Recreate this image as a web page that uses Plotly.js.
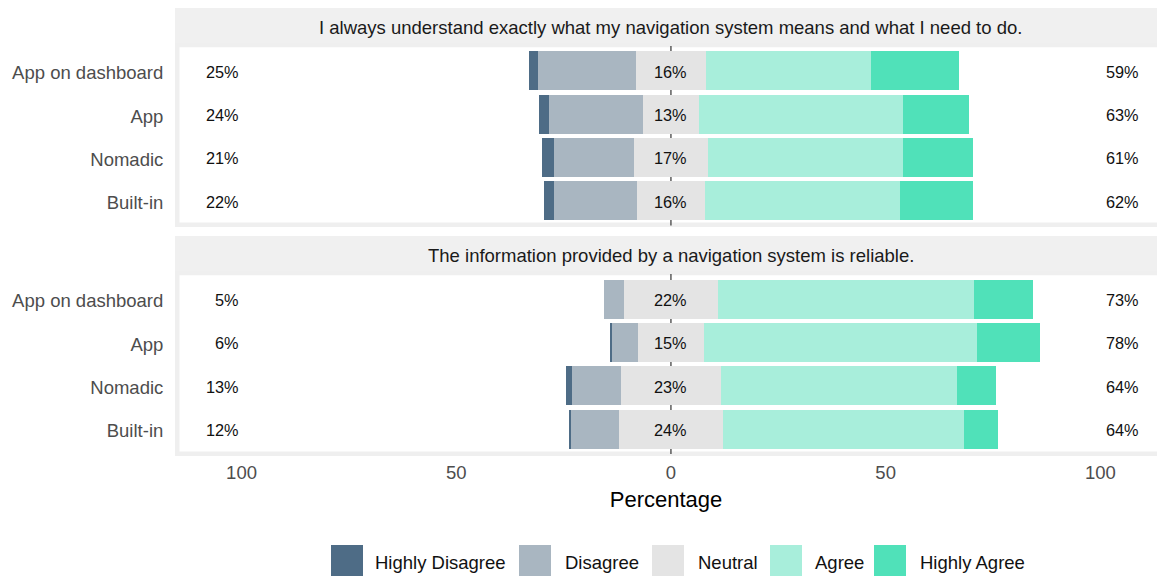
<!DOCTYPE html>
<html>
<head>
<meta charset="utf-8">
<script src="https://cdn.plot.ly/plotly-3.0.1.min.js"></script>
<style>
  html, body { margin: 0; padding: 0; background: #fff; overflow: hidden; }
  #chart { width: 1157px; height: 576px; }
</style>
</head>
<body>
<div id="chart"></div>
<script>
// ---------- data ----------
const categories = ["App on dashboard", "App", "Nomadic", "Built-in"];
const questions = [
  "I always understand exactly what my navigation system means and what I need to do.",
  "The information provided by a navigation system is reliable."
];
const levels = ["Highly Disagree", "Disagree", "Neutral", "Agree", "Highly Agree"];
const levelColors = ["#4e6c86", "#a9b6c1", "#e4e4e4", "#a8eedb", "#50e1b9"];

// Question 1: understanding (percent of respondents)
const q1HighlyDisagree = [2.2, 2.2, 2.6, 2.2];
const q1Disagree       = [22.7, 22.0, 18.8, 19.5];
const q1Neutral        = [16.4, 12.9, 17.1, 15.7];
const q1Agree          = [38.5, 47.7, 45.6, 45.5];
const q1HighlyAgree    = [20.3, 15.3, 16.1, 16.9];
const q1LowLabels     = ["25%", "24%", "21%", "22%"];
const q1NeutralLabels = ["16%", "13%", "17%", "16%"];
const q1HighLabels    = ["59%", "63%", "61%", "62%"];

// Question 2: reliability (percent of respondents)
const q2HighlyDisagree = [0.0, 0.4, 1.4, 0.4];
const q2Disagree       = [4.6, 6.0, 11.6, 11.2];
const q2Neutral        = [22.0, 15.4, 23.1, 24.1];
const q2Agree          = [59.6, 63.6, 55.0, 56.1];
const q2HighlyAgree    = [13.7, 14.7, 9.2, 8.1];
const q2LowLabels     = ["5%", "6%", "13%", "12%"];
const q2NeutralLabels = ["22%", "15%", "23%", "24%"];
const q2HighLabels    = ["73%", "78%", "64%", "64%"];

const xTickValues = [-100, -50, 0, 50, 100];
const xTickLabels = ["100", "50", "0", "50", "100"];

// ---------- layout helpers ----------
const W = 1157, H = 576;
const FONT = "Liberation Sans, Arial, sans-serif";
const px = x => x / W;
const py = y => 1 - y / H;

const panels = [
  { yaxis: "y",  ref: "y",  hd: q1HighlyDisagree, d: q1Disagree, n: q1Neutral, a: q1Agree, ha: q1HighlyAgree,
    low: q1LowLabels, mid: q1NeutralLabels, high: q1HighLabels, title: questions[0],
    strip: [8, 45], dom: [45, 226.5], border: [45, 227] },
  { yaxis: "y2", ref: "y2", hd: q2HighlyDisagree, d: q2Disagree, n: q2Neutral, a: q2Agree, ha: q2HighlyAgree,
    low: q2LowLabels, mid: q2NeutralLabels, high: q2HighLabels, title: questions[1],
    strip: [236, 273], dom: [273, 455], border: [273, 456] }
];

const traces = [];
const shapes = [];
const annotations = [];
const panelLeft = 175;

panels.forEach(p => {
  const half = p.n.map(v => v / 2);
  const segs = [
    { lvl: 2, x: p.n,  base: half.map(v => -v) },
    { lvl: 1, x: p.d,  base: half.map((v, i) => -v - p.d[i]) },
    { lvl: 0, x: p.hd, base: half.map((v, i) => -v - p.d[i] - p.hd[i]) },
    { lvl: 3, x: p.a,  base: half.slice() },
    { lvl: 4, x: p.ha, base: half.map((v, i) => v + p.a[i]) }
  ];
  segs.forEach(s => {
    traces.push({
      type: "bar", orientation: "h",
      x: s.x, base: s.base, y: categories,
      xaxis: "x", yaxis: p.yaxis,
      name: levels[s.lvl], width: 0.9,
      marker: { color: levelColors[s.lvl], line: { width: 0 } },
      showlegend: false, hoverinfo: "skip"
    });
  });
  // percentage labels (low / neutral / high)
  const addLabels = (xpos, labels, anchor, xshift) => {
    categories.forEach((c, i) => {
      annotations.push({ xref: "x", yref: p.ref, x: xpos, y: c, text: labels[i],
        showarrow: false, xanchor: anchor, yanchor: "middle", xshift: xshift, yshift: -1,
        font: { family: FONT, size: 16.3, color: "#111" } });
    });
  };
  addLabels(-100.5, p.low, "right", 2);
  addLabels(0, p.mid, "center", 0);
  addLabels(101.3, p.high, "left", -2);

  // strip
  shapes.push({ type: "rect", xref: "paper", yref: "paper", layer: "below",
    x0: px(panelLeft), x1: 1.02, y0: py(p.strip[1]), y1: py(p.strip[0]),
    fillcolor: "#f0f0f0", line: { width: 0 } });
  annotations.push({ xref: "x", yref: "paper", x: 0, y: py((p.strip[0] + p.strip[1]) / 2), yshift: -1,
    text: p.title, showarrow: false, xanchor: "center", yanchor: "middle",
    font: { family: FONT, size: 18.5, color: "#1a1a1a" } });
  // panel border
  shapes.push({ type: "rect", xref: "paper", yref: "paper", layer: "below",
    x0: px(panelLeft + 2.25), x1: 1.02, y0: py(p.border[1] - 2.25), y1: py(p.border[0]),
    fillcolor: "rgba(0,0,0,0)", line: { width: 4.5, color: "#efefef" } });
  // zero line
  shapes.push({ type: "line", xref: "x", yref: p.ref + " domain", layer: "below",
    x0: 0, x1: 0, y0: 0.005, y1: 0.995, line: { width: 1.2, color: "#333" } });
});

// custom legend (square keys, ggplot style)
const legendKeyX = [331, 519, 652, 770, 874];
const legendTextX = [373, 563, 696, 813, 918];
levels.forEach((lvl, i) => {
  shapes.push({ type: "rect", xref: "paper", yref: "paper",
    x0: px(legendKeyX[i]), x1: px(legendKeyX[i] + 32), y0: py(585), y1: py(545),
    fillcolor: levelColors[i], line: { width: 0 } });
  annotations.push({ xref: "paper", yref: "paper", x: px(legendTextX[i]), y: py(562),
    text: lvl, showarrow: false, xanchor: "left", yanchor: "middle",
    font: { family: FONT, size: 18.5, color: "#111" } });
});

const yBase = {
  type: "category", categoryorder: "array", categoryarray: categories,
  range: [3.6, -0.6], anchor: "x", showgrid: false, zeroline: false, showline: false,
  ticks: "outside", ticklen: 7, tickcolor: "rgba(0,0,0,0)", ticklabelshift: -2, automargin: false,
  tickfont: { family: FONT, size: 18.5, color: "#4d4d4d" }, fixedrange: true
};

const layout = {
  width: W, height: H,
  margin: { l: 0, r: 0, t: 0, b: 0 },
  paper_bgcolor: "#fff", plot_bgcolor: "#fff",
  barmode: "overlay", bargap: 0,
  font: { family: FONT },
  xaxis: {
    domain: [px(panelLeft), 1], range: [-115.5, 113.2], anchor: "y2",
    tickvals: xTickValues, ticktext: xTickLabels,
    showgrid: false, zeroline: false, showline: false, ticks: "",
    ticklabelstandoff: 4, automargin: false,
    tickfont: { family: FONT, size: 18.5, color: "#4d4d4d" },
    title: { text: "Percentage", font: { family: FONT, size: 22, color: "#000" }, standoff: 10 },
    fixedrange: true
  },
  yaxis: Object.assign({}, yBase, { domain: [py(panels[0].dom[1]), py(panels[0].dom[0])] }),
  yaxis2: Object.assign({}, yBase, { domain: [py(panels[1].dom[1]), py(panels[1].dom[0])] }),
  shapes: shapes,
  annotations: annotations,
  showlegend: false
};

Plotly.newPlot("chart", traces, layout, { displayModeBar: false, staticPlot: true });
</script>
</body>
</html>
